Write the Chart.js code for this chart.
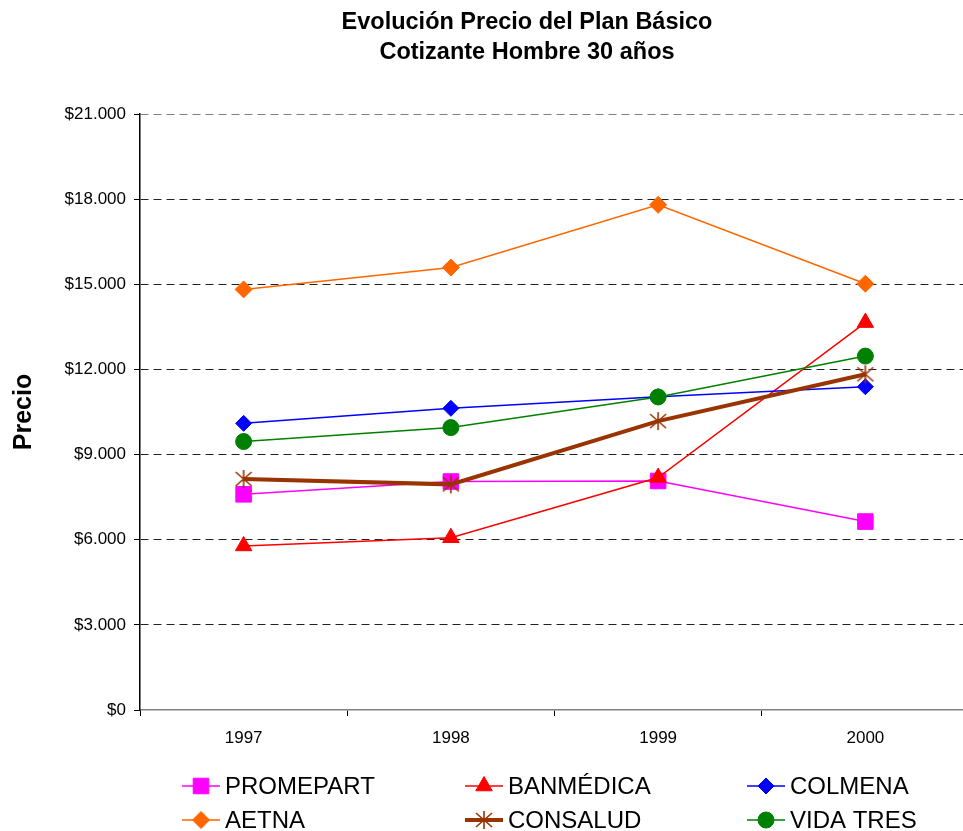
<!DOCTYPE html>
<html>
<head>
<meta charset="utf-8">
<script src="https://cdn.jsdelivr.net/npm/chart.js@4/dist/chart.umd.min.js"></script>
<style>
  html, body { margin: 0; padding: 0; background: #fff; overflow: hidden; }
  #wrap { width: 981px; height: 831px; }
</style>
</head>
<body>
<div id="wrap"><canvas id="grafico" width="981" height="831"></canvas></div>
<script>
// datos
const anios = ["1997", "1998", "1999", "2000"];
const promepart = [7600, 8050, 8070, 6640];
const banmedica = [5780, 6070, 8190, 13650];
const colmena = [10100, 10630, 11040, 11390];
const aetna = [14820, 15590, 17800, 15020];
const consalud = [8140, 7950, 10180, 11830];
const vidaTres = [9460, 9950, 11030, 12470];
const ticksY = [0, 3000, 6000, 9000, 12000, 15000, 18000, 21000];

// asterisco de 6 brazos para CONSALUD
function asterisco(color) {
    const c = document.createElement("canvas");
    c.width = 20;
    c.height = 20;
    const g = c.getContext("2d");
    g.strokeStyle = color;
    g.lineWidth = 1.6;
    g.beginPath();
    g.moveTo(10, 1); g.lineTo(10, 19);
    g.moveTo(2, 3); g.lineTo(18, 17);
    g.moveTo(18, 3); g.lineTo(2, 17);
    g.stroke();
    return c;
}

const series = [
    { nombre: "PROMEPART", datos: promepart, color: "#FF00FF", estilo: "rect", radio: 11, ancho: 1.5 },
    { nombre: "BANMÉDICA", datos: banmedica, color: "#FF0000", estilo: "triangle", radio: 9.5, ancho: 1.5 },
    { nombre: "COLMENA", datos: colmena, color: "#0000FF", estilo: "rectRot", radio: 8, ancho: 1.5 },
    { nombre: "AETNA", datos: aetna, color: "#FF6600", estilo: "rectRot", radio: 8.5, ancho: 1.5 },
    { nombre: "CONSALUD", datos: consalud, color: "#993300", estilo: asterisco("#993300"), radio: 9, ancho: 4 },
    { nombre: "VIDA TRES", datos: vidaTres, color: "#008000", estilo: "circle", radio: 8, ancho: 1.5 },
];

function formatoPesos(v) {
    return "$" + String(v).replace(/\B(?=(\d{3})+(?!\d))/g, ".");
}

// titulo en dos lineas
const tituloPlugin = {
    id: "tituloPlugin",
    afterDraw(chart) {
        const ctx = chart.ctx;
        ctx.save();
        ctx.fillStyle = "#000";
        ctx.font = "bold 23.5px 'Liberation Sans', Arial, sans-serif";
        ctx.textAlign = "center";
        ctx.textBaseline = "middle";
        ctx.fillText("Evolución Precio del Plan Básico", 527, 23);
        ctx.fillText("Cotizante Hombre 30 años", 527, 53);
        ctx.restore();
    }
};

// leyenda en tres columnas, linea + marcador
const leyendaPlugin = {
    id: "leyendaPlugin",
    afterDraw(chart) {
        const ctx = chart.ctx;
        const colX = [182, 465, 747];
        const filaY = [786, 820];
        chart.data.datasets.forEach((ds, i) => {
            const x = colX[i % 3];
            const y = filaY[Math.floor(i / 3)];
            ctx.save();
            ctx.strokeStyle = ds.borderColor;
            ctx.lineWidth = ds.borderWidth;
            ctx.beginPath();
            ctx.moveTo(x, y);
            ctx.lineTo(x + 38, y);
            ctx.stroke();
            ctx.fillStyle = ds.pointBackgroundColor;
            ctx.strokeStyle = ds.pointBorderColor;
            ctx.lineWidth = ds.pointBorderWidth;
            Chart.helpers.drawPoint(ctx, {
                pointStyle: ds.pointStyle,
                radius: ds.pointRadius,
                rotation: 0,
                borderWidth: ds.pointBorderWidth
            }, x + 19, y);
            ctx.fillStyle = "#000";
            ctx.font = "24px 'Liberation Sans', Arial, sans-serif";
            ctx.textAlign = "left";
            ctx.textBaseline = "middle";
            ctx.fillText(ds.label, x + 43, y + 1);
            ctx.restore();
        });
    }
};

const datasets = series.map((s, i) => ({
    label: s.nombre,
    data: s.datos,
    borderColor: s.color,
    backgroundColor: s.color,
    borderWidth: s.ancho,
    pointStyle: s.estilo,
    pointRadius: s.radio,
    pointBackgroundColor: s.color,
    pointBorderColor: s.color,
    pointBorderWidth: 1,
    tension: 0,
    fill: false,
    order: series.length - i,
}));

new Chart(document.getElementById("grafico"), {
    type: "line",
    data: { labels: anios, datasets: datasets },
    options: {
        responsive: false,
        animation: false,
        devicePixelRatio: 1,
        layout: { padding: { top: 114, right: 6, bottom: 0, left: 0 } },
        plugins: {
            legend: { display: false },
            title: { display: false },
            tooltip: { enabled: false },
        },
        scales: {
            x: {
                offset: true,
                grid: {
                    offset: true,
                    drawOnChartArea: false,
                    drawTicks: true,
                    tickLength: 6,
                    tickColor: "#000",
                },
                border: { color: "#808080", width: 1.5 },
                ticks: {
                    color: "#000",
                    font: { family: "'Liberation Sans', Arial, sans-serif", size: 17 },
                    padding: 12,
                    maxRotation: 0,
                },
                afterFit: (s) => { s.height = 121; },
            },
            y: {
                min: 0,
                max: 21000,
                afterBuildTicks: (s) => { s.ticks = ticksY.map(v => ({ value: v })); },
                grid: {
                    color: (c) => {
                        if (c.tick && c.tick.value === 0) return "rgba(0,0,0,0)";
                        if (c.tick && c.tick.value === 21000) return "#808080";
                        return "#222";
                    },
                    lineWidth: 1,
                    drawTicks: true,
                    tickLength: 6,
                    tickColor: "#000",
                },
                border: { color: "#000", width: 1.5, dash: [8, 5] },
                ticks: {
                    color: "#000",
                    font: { family: "'Liberation Sans', Arial, sans-serif", size: 17 },
                    padding: 8,
                    callback: (v) => formatoPesos(v),
                },
                title: {
                    display: true,
                    text: "Precio",
                    color: "#000",
                    font: { family: "'Liberation Sans', Arial, sans-serif", size: 25, weight: "bold" },
                    padding: { top: 9, bottom: 0 },
                },
                afterFit: (s) => { s.width = 140; },
            },
        },
    },
    plugins: [tituloPlugin, leyendaPlugin],
});
</script>
</body>
</html>
